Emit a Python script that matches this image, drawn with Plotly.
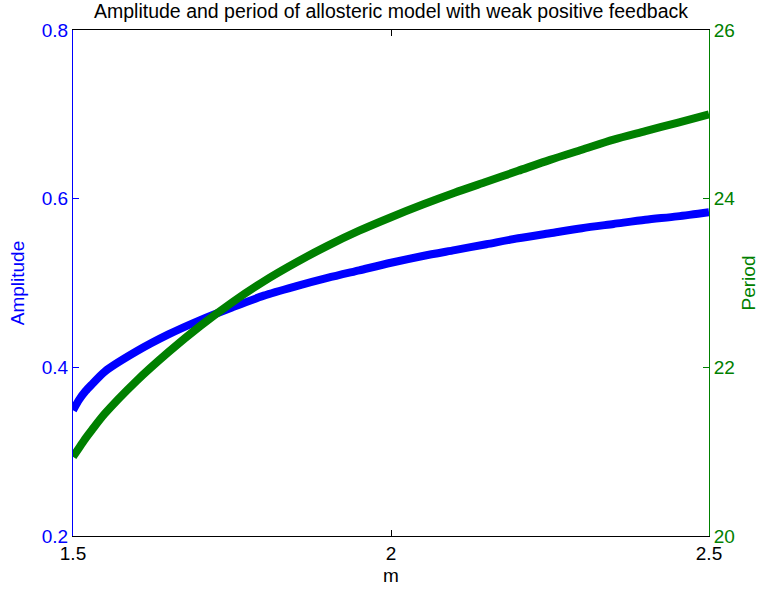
import plotly.graph_objects as go

# Hill coefficient m (x axis)
m_values = [1.50, 1.51, 1.52, 1.53, 1.55, 1.60, 1.65, 1.70, 1.75, 1.80, 1.85,
            1.90, 1.95, 2.00, 2.05, 2.10, 2.15, 2.20, 2.25, 2.30, 2.35, 2.40,
            2.45, 2.50]

# Oscillation amplitude (left axis)
amplitude = [0.349, 0.362, 0.372, 0.380, 0.395, 0.419, 0.439, 0.456, 0.471,
             0.485, 0.496, 0.506, 0.515, 0.524, 0.532, 0.539, 0.546, 0.553,
             0.559, 0.565, 0.570, 0.575, 0.579, 0.584]

# Oscillation period (right axis)
period = [20.94, 21.05, 21.16, 21.26, 21.45, 21.84, 22.18, 22.49, 22.77,
          23.02, 23.24, 23.44, 23.62, 23.78, 23.93, 24.07, 24.20, 24.33,
          24.46, 24.58, 24.70, 24.80, 24.90, 25.00]

x_ticks = [1.5, 2, 2.5]
amp_ticks = [0.2, 0.4, 0.6, 0.8]
per_ticks = [20, 22, 24, 26]

BLUE = "rgb(0,0,255)"
GREEN = "rgb(0,128,0)"
FONT = "Liberation Sans, Arial, sans-serif"

fig = go.Figure()
fig.add_trace(go.Scatter(x=m_values, y=amplitude, mode="lines",
                         line=dict(color=BLUE, width=8, shape="spline",
                                   smoothing=0.8),
                         yaxis="y", showlegend=False))
fig.add_trace(go.Scatter(x=m_values, y=period, mode="lines",
                         line=dict(color=GREEN, width=8, shape="spline",
                                   smoothing=0.8),
                         yaxis="y2", showlegend=False))

fig.update_layout(
    width=759, height=590,
    margin=dict(l=73, r=50, t=30, b=54),
    paper_bgcolor="white", plot_bgcolor="white",
    font=dict(family=FONT, size=19, color="black"),
    title=dict(text="Amplitude and period of allosteric model with weak positive feedback",
               x=0.5, xref="paper", y=1 - 11 / 590, yref="container",
               xanchor="center", yanchor="middle",
               font=dict(family=FONT, size=19.5, color="black")),
    xaxis=dict(range=[1.5, 2.5], tickvals=x_ticks, ticktext=["1.5", "2", "2.5"],
               automargin=False,
               showgrid=False, zeroline=False, showline=True, linecolor="black",
               linewidth=1, mirror="ticks", ticks="inside", ticklen=6,
               tickcolor="black", tickfont=dict(size=19, color="black"),
               title=dict(text="m", font=dict(size=19, color="black"), standoff=5)),
    yaxis=dict(range=[0.2, 0.8], tickvals=amp_ticks,
               ticktext=["0.2", "0.4", "0.6", "0.8"], automargin=False,
               showgrid=False, zeroline=False, showline=True, linecolor=BLUE,
               linewidth=1, ticks="inside", ticklen=6, tickcolor=BLUE,
               tickfont=dict(size=19, color=BLUE),
               title=dict(text="Amplitude", font=dict(size=19, color=BLUE),
                          standoff=12)),
    yaxis2=dict(range=[20, 26], tickvals=per_ticks,
                ticktext=["20", "22", "24", "26"], automargin=False,
                overlaying="y", side="right",
                showgrid=False, zeroline=False, showline=True, linecolor=GREEN,
                linewidth=1, ticks="inside", ticklen=6, tickcolor=GREEN,
                tickfont=dict(size=19, color=GREEN),
                title=dict(text="Period", font=dict(size=19, color=GREEN),
                           standoff=11)),
)

fig.write_html("out.html")
